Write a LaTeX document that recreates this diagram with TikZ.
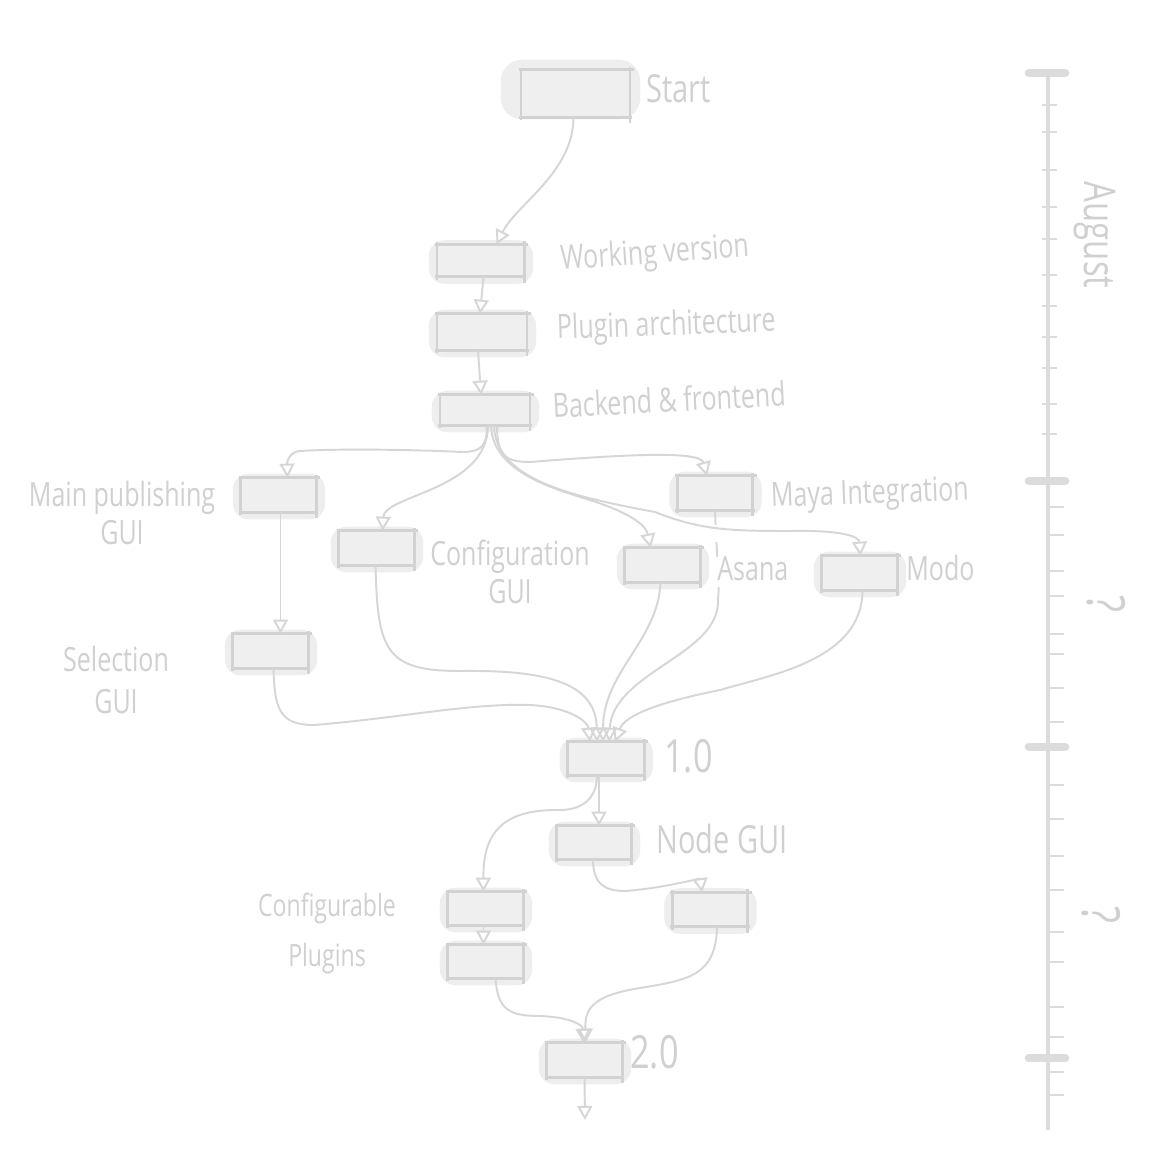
\documentclass[tikz,border=0pt]{standalone}
\usepackage{fontspec}
\setmainfont{Open Sans}[FakeStretch=0.75]
\usetikzlibrary{arrows.meta,calc,backgrounds}
\definecolor{linec}{HTML}{D6D6D6}
\definecolor{boxfill}{HTML}{EFEFEF}
\definecolor{boxline}{HTML}{D2D2D2}
\definecolor{blobc}{HTML}{EEEEEE}
\definecolor{txt}{HTML}{D0D0D0}
\definecolor{axisc}{HTML}{DCDCDC}
\def\pxu{0.5669pt}
\newcommand\sketchedges[1]{%
  \draw[edge] ($(#1.north west)+(-2,0)$) -- ($(#1.north east)+(4,0)$);
  \draw[edge] ($(#1.south west)+(-2,0)$) -- ($(#1.south east)+(2,0)$);
  \draw[edge] ($(#1.north west)+(0,-2)$) -- ($(#1.south west)+(0,3)$);
  \draw[edge] ($(#1.north east)+(0,-3)$) -- ($(#1.south east)+(0,6)$);
}
\begin{document}
\begin{tikzpicture}[x=0.02cm,y=-0.02cm,
  box/.style={draw=none, fill=boxfill, inner sep=0pt, minimum width=75*\pxu, minimum height=34*\pxu},
  edge/.style={draw=boxline, line width=1.5pt},
  con/.style={draw=linec, line width=1.1pt, -{Triangle[open, length=8pt, width=8.5pt]}},
  lab/.style={text=txt, inner sep=0pt, font=\fontsize{19}{21.5}\selectfont},
  axisline/.style={draw=axisc, line width=2.4pt},
  major/.style={draw=axisc, line width=5pt, line cap=round},
  minor/.style={draw=axisc, line width=1pt}
]
\useasboundingbox (0,0) rectangle (1163,1152);
\begin{scope}[on background layer]
  \fill[white] (0,0) rectangle (1163,1152);
\end{scope}

% boxes
\node[box, minimum width=109*\pxu, minimum height=47*\pxu] (start) at (575.5,93.5) {};
\node[box, minimum width=87*\pxu, minimum height=32*\pxu] (work) at (480.5,260.5) {};
\node[box, minimum width=90*\pxu, minimum height=36*\pxu] (plug) at (482,332) {};
\node[box, minimum width=90*\pxu, minimum height=30*\pxu] (back) at (485,410) {};
\node[box] (mainp) at (278.5,495) {};
\node[box] (conf) at (376.5,548) {};
\node[box] (maya) at (715,493) {};
\node[box] (asana) at (662.5,565) {};
\node[box] (modo) at (859.5,573) {};
\node[box] (sel) at (270.5,651) {};
\node[box, minimum width=76*\pxu, minimum height=33*\pxu] (v1) at (606,758.5) {};
\node[box, minimum width=74*\pxu, minimum height=33*\pxu] (nodeg) at (594,842.5) {};
\node[box, minimum height=33*\pxu] (cp1) at (485.5,908.5) {};
\node[box, minimum height=33*\pxu] (cp2) at (485.5,961.5) {};
\node[box] (rbox) at (710,909.5) {};
\node[box] (v2) at (584.5,1060) {};
\coordinate (vend) at (585,1120);

\begin{scope}[on background layer]
  \fill[blobc, rounded corners=12pt] ($(start.south west)+(-20,2)$) rectangle ($(start.north east)+(10,-10)$);
  \foreach \n in {work,plug,back,mainp,conf,maya,asana,modo,sel,v1,nodeg,cp1,cp2,rbox,v2}
    {\fill[blobc, rounded corners=9pt] ($(\n.south west)+(-8,7)$) rectangle ($(\n.north east)+(9,-4)$);}
\end{scope}

\foreach \n in {start,work,plug,back,mainp,conf,maya,asana,modo,sel,v1,nodeg,cp1,cp2,rbox,v2}
  {\sketchedges{\n}}

% connectors
\draw[con] ($(start.south)+(-2,0)$) .. controls +(0,55) and +(20,-40) .. ($(work.north)+(16,0)$);
\draw[con] ($(work.south)+(3,0)$) -- ($(plug.north)+(-2,0)$);
\draw[con] ($(plug.south)+(-4,0)$) -- ($(back.north)+(-4,0)$);
\draw[con] ($(back.south)+(2,0)$) .. controls +(0,20) and +(20,0) .. (462,452) .. controls (400,449) and (330,449) .. (300,451) .. controls (289,452) and (287,462) .. ($(mainp.north)+(9,0)$);
\draw[con] ($(back.south)+(3,0)$) .. controls +(0,65) and +(2,-36) .. ($(conf.north)+(6,0)$);
\draw[con] ($(back.south)+(12,0)$) .. controls +(0,30) and +(-25,0) .. (530,462) .. controls (620,455) and (700,450) .. ($(maya.north)+(-8,0)$);
\draw[con] ($(back.south)+(6,0)$) .. controls +(1,45) and +(-40,-12) .. (590,500) .. controls (630,513) and (646,525) .. ($(asana.north)+(-12,0)$);
\draw[con] ($(back.south)+(9,0)$) .. controls +(1,55) and +(-80,-15) .. (655,512) .. controls (700,530) and (730,531) .. (790,531) .. controls (840,530) and (859,536) .. ($(modo.north)+(1,0)$);
\draw[con] ($(mainp.south)+(2,0)$) -- ($(sel.north)+(10,0)$);
\draw[con] ($(sel.south)+(3,0)$) .. controls +(1,40) and +(-35,0) .. (314,725) .. controls (400,718) and (470,703) .. (530,705) .. controls (570,707) and (588,722) .. ($(v1.north)+(-16,0)$);
\draw[con] ($(conf.south)+(-1,0)$) .. controls +(2,85) and +(-75,0) .. (460,671) .. controls (540,670) and (596,680) .. ($(v1.north)+(-9,0)$);
\draw[con] ($(asana.south)+(-2,0)$) .. controls +(-2,58) and +(0,-70) .. ($(v1.north)+(-3,0)$);
\draw[con, dash pattern=on 8.5pt off 9.6pt on 8.5pt off 17pt on 400pt] (maya.south) .. controls +(2,60) and +(2,-25) .. (718,600) .. controls (720,655) and (613,672) .. ($(v1.north)+(3,0)$);
\draw[con] ($(modo.south)+(3,0)$) .. controls +(0,70) and +(50,-15) .. (720,690) .. controls (660,702) and (625,715) .. ($(v1.north)+(9,0)$);
\draw[con] ($(v1.south)+(-7,0)$) -- ($(nodeg.north)+(5,0)$);
\draw[con] ($(v1.south)+(-9,0)$) .. controls +(0,25) and +(20,0) .. (560,810) .. controls (500,809) and (483,835) .. ($(cp1.north)+(-2,0)$);
\draw[con] ($(nodeg.south)+(-1,0)$) .. controls +(0,25) and +(-20,0) .. (625,891) .. controls (665,888) and (700,878) .. ($(rbox.north)+(-8,0)$);
\draw[con] ($(cp1.south)+(-2,0)$) -- ($(cp2.north)+(-2,0)$);
\draw[con] ($(cp2.south)+(10,0)$) .. controls +(2,32) and +(-30,0) .. (540,1016) .. controls (570,1017) and (583,1025) .. ($(v2.north)+(-1,0)$);
\draw[con] ($(rbox.south)+(7,0)$) .. controls +(-1,48) and +(50,-8) .. (640,988) .. controls (590,996) and (585,1010) .. ($(v2.north)+(1,0)$);
\draw[con] (v2.south) -- (vend);

% labels
\node[lab, anchor=base west, font=\fontsize{22}{26}\selectfont] (lstart) at (646,103) {Start};
\node[lab, anchor=base west, rotate=4] (lwork) at (561,270) {Working version};
\node[lab, anchor=base west, rotate=2] (lplug) at (557,339) {Plugin architecture};
\node[lab, anchor=base west, rotate=3] (lback) at (553,418) {Backend \& frontend};
\node[lab, anchor=base west, rotate=2] (lmaya) at (771,507) {Maya Integration};
\node[lab, anchor=base west] (lasana) at (717,580) {Asana};
\node[lab, anchor=base west] (lmodo) at (906,580) {Modo};
\node[lab, anchor=base west, font=\fontsize{26}{30}\selectfont] (lv1) at (664,772) {1.0};
\node[lab, anchor=base west, font=\fontsize{22}{26}\selectfont] (lnode) at (656,853) {Node GUI};
\node[lab, anchor=base west, font=\fontsize{26}{30}\selectfont] (lv2) at (630,1068) {2.0};
\node[lab, align=center, anchor=north] (lmainp) at (122,481) {Main publishing\\GUI};
\node[lab, align=center, anchor=north] (lconf) at (510,540) {Configuration\\GUI};
\node[lab, align=center, anchor=north, font=\fontsize{19}{24}\selectfont] (lsel) at (116,646) {Selection\\GUI};
\node[lab, align=center, anchor=north, font=\fontsize{17.5}{28}\selectfont] (lcp) at (327,893) {Configurable\\Plugins};

% timeline
\draw[axisline] (1048,73) -- (1048,1130);
\foreach \yy in {73,481,747,1058} {\draw[major] (1029,\yy) -- (1065,\yy);}
\foreach \yy in {105,132,170,207,239,275,306,337,368,404,434} {\draw[minor] (1042,\yy) -- (1057,\yy);}
\foreach \yy in {507,535,571,596,634,654,688,722,785,819,856,890,932,962,1007,1037,1072,1095} {\draw[minor] (1048,\yy) -- (1064,\yy);}
\node[lab, rotate=-90, font=\fontsize{25}{30}\selectfont] (laug) at (1095,235) {August};
\node[lab, rotate=-90, font=\fontsize{30}{30}\selectfont] (lq1) at (1106,604) {?};
\node[lab, rotate=-90, font=\fontsize{30}{30}\selectfont] (lq2) at (1101,915) {?};
\end{tikzpicture}
\end{document}
